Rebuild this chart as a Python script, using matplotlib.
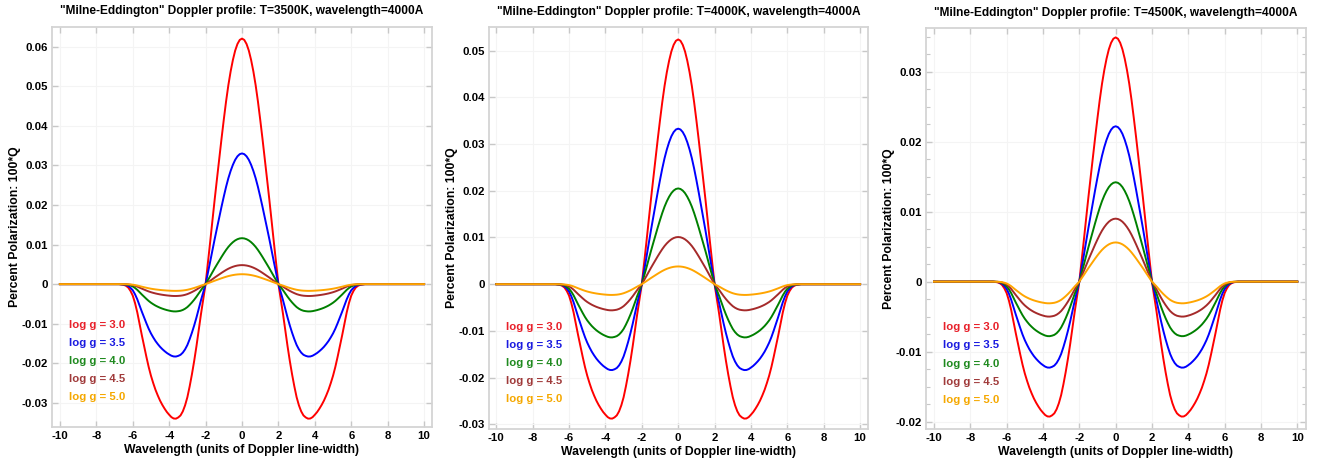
import numpy as np
import matplotlib
matplotlib.use("Agg")
import matplotlib.pyplot as plt
from matplotlib.ticker import MultipleLocator, FuncFormatter

plt.rcParams['font.family'] = ['Liberation Sans', 'DejaVu Sans']
plt.rcParams['font.weight'] = 'bold'
plt.rcParams['axes.unicode_minus'] = False

# Profile shape (positive half, symmetric); core normalised to peak=1,
# wings normalised to trough=-1
half_x = [0.0, 0.125, 0.25, 0.375, 0.5, 0.625, 0.75, 0.875, 1.0, 1.125, 1.25, 1.375, 1.5, 1.625,
          1.75, 1.875, 2.0, 2.125, 2.25, 2.375, 2.5, 2.625, 2.75, 2.875, 3.0, 3.125, 3.25, 3.375,
          3.5, 3.625, 3.75, 3.875, 4.0, 4.125, 4.25, 4.375, 4.5, 4.625, 4.75, 4.875, 5.0, 5.125,
          5.25, 5.375, 5.5, 5.625, 5.75, 5.875, 6.0, 6.125, 6.25, 6.375, 6.5, 6.75, 7.0, 10.0]
half_shape = [1.0, 0.9945, 0.978, 0.951, 0.913, 0.866, 0.81, 0.744, 0.67, 0.592, 0.51, 0.428,
              0.345, 0.258, 0.17, 0.085, 0.0, -0.11, -0.22, -0.34, -0.46, -0.57, -0.67, -0.76,
              -0.84, -0.90, -0.945, -0.975, -0.99, -0.999, -0.998, -0.988, -0.97, -0.95, -0.925,
              -0.897, -0.865, -0.827, -0.785, -0.735, -0.68, -0.615, -0.54, -0.46, -0.38, -0.295,
              -0.21, -0.14, -0.085, -0.05, -0.025, -0.012, -0.005, 0.0, 0.0, 0.0]

labels = ["log g = 3.0", "log g = 3.5", "log g = 4.0", "log g = 4.5", "log g = 5.0"]
line_colors = ["red", "blue", "green", "brown", "orange"]
text_colors = ["#e8202a", "#1a1ae0", "#1f8a1f", "#a03a3a", "#f5a800"]

temps = ["3500K", "4000K", "4500K"]
peaks_3500 = [0.0620, 0.0330, 0.0116, 0.0048, 0.0025]
troughs_3500 = [-0.0340, -0.0183, -0.0069, -0.0030, -0.0017]
peaks_4000 = [0.0524, 0.0333, 0.0205, 0.0101, 0.0038]
troughs_4000 = [-0.0288, -0.0184, -0.0114, -0.0056, -0.0023]
peaks_4500 = [0.0349, 0.0222, 0.0142, 0.0090, 0.0056]
troughs_4500 = [-0.0193, -0.0123, -0.0078, -0.0050, -0.0031]

peaks = [peaks_3500, peaks_4000, peaks_4500]
troughs = [troughs_3500, troughs_4000, troughs_4500]

x_ticks = [-10, -8, -6, -4, -2, 0, 2, 4, 6, 8, 10]

hx = np.array(half_x)
hs = np.array(half_shape)
x_full = np.concatenate([-hx[::-1], hx[1:]])
s_full = np.concatenate([hs[::-1], hs[1:]])

W, H = 1327, 465
fig = plt.figure(figsize=(W / 100, H / 100), dpi=100)

# axes boxes in pixels: left, right, top, bottom
boxes = [(51.7, 432.3, 26.7, 426.7), (489, 868.3, 27.3, 429), (926, 1306, 28.3, 429.3)]
ylims = [(-0.036, 0.065), (-0.031, 0.055), (-0.0211, 0.0362)]
xlims = [(-10.45, 10.45), (-10.4, 10.45), (-10.44, 10.48)]
minor = [None, None, 0.0025]

def fmt(v, pos):
    if abs(v) < 1e-12:
        return "0"
    return "%g" % round(v, 4)

for i in range(3):
    l, r, t, b = boxes[i]
    ax = fig.add_axes([l / W, 1 - b / H, (r - l) / W, (b - t) / H])
    for j in range(5):
        y = np.where(s_full >= 0, s_full * peaks[i][j], s_full * abs(troughs[i][j]))
        ax.plot(x_full, y, color=line_colors[j], lw=1.4, solid_joinstyle='round')
    ax.set_xlim(*xlims[i])
    ax.set_ylim(*ylims[i])
    ax.set_xticks(x_ticks)
    ax.yaxis.set_major_locator(MultipleLocator(0.01))
    if minor[i]:
        ax.yaxis.set_minor_locator(MultipleLocator(minor[i]))
    ax.yaxis.set_major_formatter(FuncFormatter(fmt))
    ax.grid(True, which='major', color='#f4f4f4', lw=0.8)
    ax.set_axisbelow(True)
    for sp in ax.spines.values():
        sp.set_color('#d4d4d4')
        sp.set_linewidth(1.3)
    ax.tick_params(which='both', direction='in', top=True, right=True, color='#c8c8c8',
                   labelsize=8.2, pad=3)
    ax.tick_params(which='major', length=4, width=1)
    ax.tick_params(which='minor', length=3, width=0.8)
    for lab in ax.get_xticklabels() + ax.get_yticklabels():
        lab.set_fontweight('bold')
    ax.set_title('"Milne-Eddington" Doppler profile: T=%s, wavelength=4000A' % temps[i],
                 fontsize=8.6, fontweight='bold', pad=9)
    ax.set_xlabel("Wavelength (units of Doppler line-width)", fontsize=8.8, fontweight='bold',
                  labelpad=2)
    ax.set_ylabel("Percent Polarization: 100*Q", fontsize=8.8, fontweight='bold', labelpad=0)
    for j in range(5):
        ax.text(0.046, 0.254 - j * 0.045, labels[j], color=text_colors[j], fontsize=8.2,
                fontweight='bold', transform=ax.transAxes, va='center', ha='left')

fig.savefig("out.png", dpi=100, facecolor='white')
